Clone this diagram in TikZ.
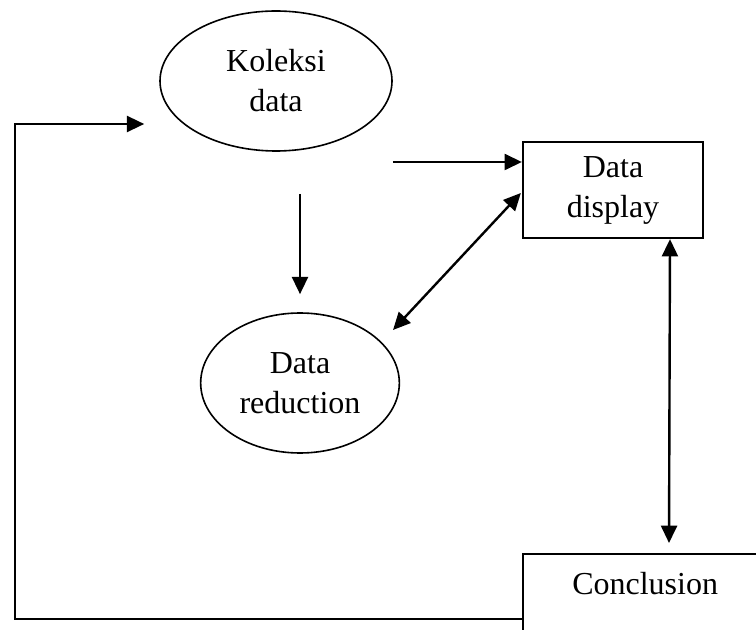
\documentclass[tikz,border=0pt]{standalone}
\usepackage{fontspec}
\setmainfont{Liberation Serif}
\usetikzlibrary{arrows.meta,positioning,shapes.geometric,calc}

\begin{document}
\begin{tikzpicture}[x=0.75pt, y=-0.75pt,
    every node/.style={font=\fontsize{24}{30}\selectfont, align=center},
    oval/.style={draw, ellipse, line width=1.2pt, inner sep=0pt},
    box/.style={draw, rectangle, line width=1.7pt, inner sep=0pt},
    arr/.style={-{Triangle[length=13pt,width=12pt]}, line width=1.8pt},
    darr/.style={{Triangle[length=13pt,width=12pt]}-{Triangle[length=13pt,width=12pt]}, line width=1.8pt}]
        \useasboundingbox (0,0) rectangle (756,630);
        \clip (0,0) rectangle (756,630);
        \node[oval, minimum width=174pt, minimum height=105pt] (koleksi)
              at (276,81) {Koleksi\\data};
        \node[oval, minimum width=149pt, minimum height=105pt] (reduction)
              at (300,383) {Data\\reduction};
        \node[box, minimum width=135pt, minimum height=72pt] (display)
              at (613,190) {Data\\display};
        \node[box, anchor=north west, minimum width=183pt,
              text height=30pt, text depth=60pt] (conc)
              at (522,553) {Conclusion};
        \draw[arr] ($(koleksi.south)+(24,42)$) -- ($(reduction.north)+(0,-18)$);
        \draw[arr] ($(koleksi.east)+(0,81)$) -- ($(display.west)+(0,-28)$);
        \draw[darr] ($(reduction.center)+(93,-53)$) -- ($(display.west)+(-1,3)$);
        \draw[darr] ($(display.south)+(57,0)$) -- ($(conc.north west)+(147,-10)$);
        \draw[arr] ($(conc.north west)+(0,66)$) -- (15,619) |- ($(koleksi.west)+(-15,43)$);
      \end{tikzpicture}
\end{document}
